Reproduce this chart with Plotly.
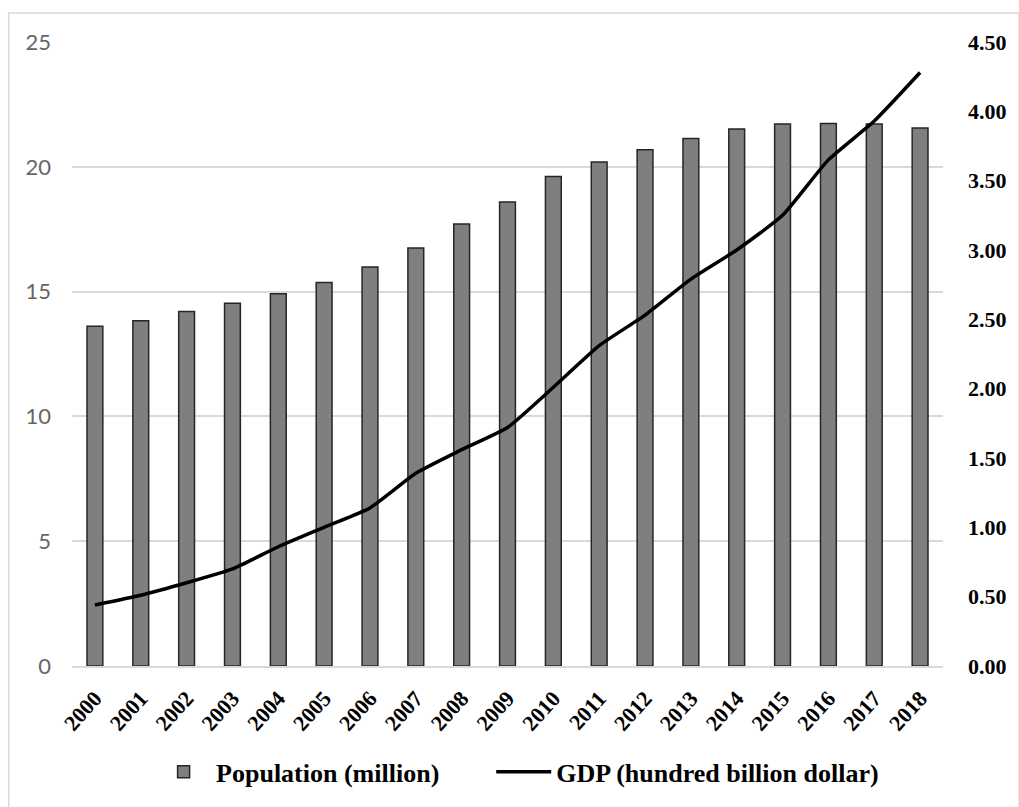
import plotly.graph_objects as go

# Years on the category axis
years = [str(y) for y in range(2000, 2019)]

# Population in millions (left axis)
population = [13.61, 13.83, 14.20, 14.53, 14.91, 15.36, 15.99, 16.75, 17.71, 18.59,
              19.61, 20.19, 20.68, 21.13, 21.51, 21.71, 21.73, 21.71, 21.55]

# GDP in hundred billion dollars (right axis)
gdp = [0.44, 0.51, 0.60, 0.70, 0.86, 1.00, 1.14, 1.39, 1.56, 1.72,
       2.01, 2.31, 2.53, 2.79, 3.00, 3.25, 3.65, 3.93, 4.28]

left_ticks = [0, 5, 10, 15, 20, 25]
right_ticks = [0, 0.5, 1.0, 1.5, 2.0, 2.5, 3.0, 3.5, 4.0, 4.5]

W, H = 1019, 807
ML, MR, MT, MB = 72, 66, 42, 140
PW, PH = W - ML - MR, H - MT - MB

serif_bold = dict(family="Liberation Serif, Times New Roman, serif", color="black", weight="bold")

fig = go.Figure()
fig.add_trace(go.Bar(
    x=years, y=population, name="Population (million)",
    width=0.345, legend="legend", showlegend=True,
    marker=dict(color="#7f7f7f", line=dict(color="#262626", width=1.5)),
))
fig.add_trace(go.Scatter(
    x=years, y=gdp, name="GDP (hundred billion dollar)", yaxis="y2",
    legend="legend2", showlegend=True,
    mode="lines", line=dict(color="black", width=3.5, shape="spline", smoothing=0.5),
))


def px_x(p):
    return (p - ML) / PW


def px_y(p):
    return (H - MB - p) / PH


legend_common = dict(
    orientation="h", xanchor="left", yanchor="middle", y=px_y(773),
    font=dict(size=26, **serif_bold), bgcolor="rgba(0,0,0,0)", itemwidth=55,
)

fig.update_layout(
    width=W, height=H, showlegend=True,
    margin=dict(l=ML, r=MR, t=MT, b=MB),
    paper_bgcolor="white", plot_bgcolor="white",
    xaxis=dict(
        type="category", tickangle=-48,
        tickfont=dict(size=22, **serif_bold),
        showgrid=False, showline=True, linecolor="#d9d9d9", linewidth=1.5,
        ticks="", ticklabelstandoff=9,
    ),
    yaxis=dict(
        range=[0, 25], tickvals=left_ticks,
        tickfont=dict(family="Lato, Open Sans, sans-serif", size=22, color="#666666"),
        showgrid=True, gridcolor="#d9d9d9", gridwidth=1.5,
        zeroline=False, showline=False, ticks="", ticklabelstandoff=20,
    ),
    yaxis2=dict(
        range=[0, 4.5], tickvals=right_ticks, tickformat=".2f",
        overlaying="y", side="right",
        tickfont=dict(size=22, **serif_bold),
        showgrid=False, zeroline=False, showline=False, ticks="", ticklabelstandoff=24,
    ),
    legend=dict(x=px_x(152), **legend_common),
    legend2=dict(x=px_x(496), **legend_common),
    shapes=[dict(
        type="rect", xref="paper", yref="paper",
        x0=px_x(8), x1=px_x(1030), y0=px_y(820), y1=px_y(13),
        line=dict(color="#d9d9d9", width=1.5), fillcolor="rgba(0,0,0,0)", layer="below",
    )],
)

fig.write_html("out.html")
